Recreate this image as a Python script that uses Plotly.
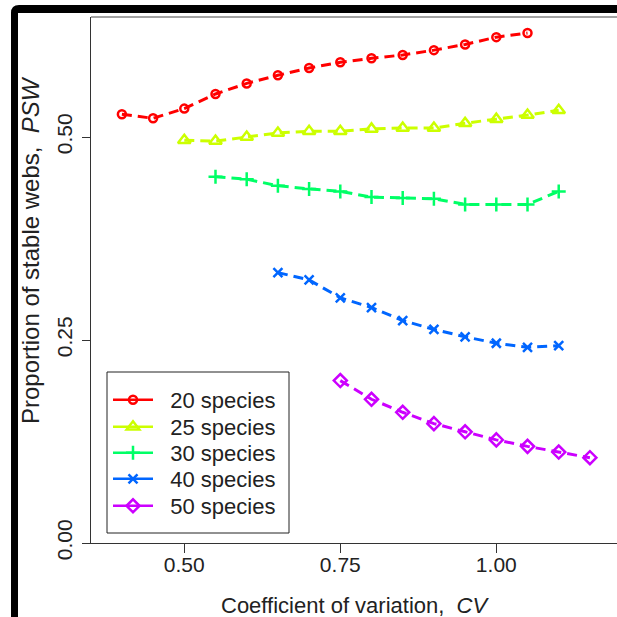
import plotly.graph_objects as go

# data
cv_20 = [0.40, 0.45, 0.50, 0.55, 0.60, 0.65, 0.70, 0.75, 0.80, 0.85, 0.90, 0.95, 1.00, 1.05]
psw_20 = [0.528, 0.523, 0.535, 0.553, 0.566, 0.576, 0.585, 0.592, 0.597, 0.601, 0.607, 0.614, 0.623, 0.628]

cv_25 = [0.50, 0.55, 0.60, 0.65, 0.70, 0.75, 0.80, 0.85, 0.90, 0.95, 1.00, 1.05, 1.10]
psw_25 = [0.496, 0.495, 0.500, 0.505, 0.507, 0.507, 0.510, 0.511, 0.511, 0.517, 0.522, 0.527, 0.533]

cv_30 = [0.55, 0.60, 0.65, 0.70, 0.75, 0.80, 0.85, 0.90, 0.95, 1.00, 1.05, 1.10]
psw_30 = [0.451, 0.448, 0.440, 0.436, 0.433, 0.426, 0.425, 0.424, 0.417, 0.417, 0.417, 0.433]

cv_40 = [0.65, 0.70, 0.75, 0.80, 0.85, 0.90, 0.95, 1.00, 1.05, 1.10]
psw_40 = [0.333, 0.324, 0.302, 0.290, 0.274, 0.263, 0.254, 0.246, 0.241, 0.243]

cv_50 = [0.75, 0.80, 0.85, 0.90, 0.95, 1.00, 1.05, 1.10, 1.15]
psw_50 = [0.200, 0.177, 0.161, 0.147, 0.137, 0.127, 0.119, 0.112, 0.105]

names = ["20 species", "25 species", "30 species", "40 species", "50 species"]
colors = ["#FF0000", "#CCFF00", "#00FF66", "#0066FF", "#CC00FF"]
symbols = ["circle-open", "triangle-up-open", "cross-thin-open", "x-thin-open", "diamond-open"]
sym_sizes = [8, 11, 10, 9, 10]
series = [(cv_20, psw_20), (cv_25, psw_25), (cv_30, psw_30), (cv_40, psw_40), (cv_50, psw_50)]

x_ticks = [0.50, 0.75, 1.00]
y_ticks = [0.00, 0.25, 0.50]

W, H = 617, 617
L, R, T, B = 91, 617, 17, 543  # plot box in pixels

def fx(px):
    return (px - L) / (R - L)

def fy(py):
    return (B - py) / (B - T)

FONT = "Liberation Sans, Arial, sans-serif"
TXT = "#222222"
legend_rows = [400, 427, 453, 479, 506]  # pixel centre of each legend row

fig = go.Figure()
layout_legends = {}
for i, ((x, y), name, col, sym, ms) in enumerate(zip(series, names, colors, symbols, sym_sizes)):
    lg = "legend" if i == 0 else f"legend{i + 1}"
    mk = dict(symbol=sym, size=ms, color=col, line=dict(color=col, width=2.5))
    fig.add_trace(go.Scatter(
        x=x, y=y, name=name, mode="lines+markers", showlegend=False,
        line=dict(color=col, width=3, dash="10px,6px"), marker=mk,
    ))
    # legend entry with a solid line sample, as in the original
    fig.add_trace(go.Scatter(
        x=[None], y=[None], name="\u00a0\u00a0" + name, mode="lines+markers", legend=lg,
        line=dict(color=col, width=2.5), marker=mk,
    ))
    layout_legends[lg] = dict(x=fx(108), y=fy(legend_rows[i]), xanchor="left", yanchor="middle",
                              bgcolor="rgba(0,0,0,0)", borderwidth=0, itemwidth=40,
                              font=dict(size=22, family=FONT, color=TXT))

shapes = [
    # top of plot box
    dict(type="line", xref="paper", yref="paper", x0=0, x1=1.1, y0=1, y1=1,
         line=dict(color="#444444", width=1)),
    # legend box
    dict(type="rect", xref="paper", yref="paper", x0=fx(107), x1=fx(289), y0=fy(533), y1=fy(372),
         line=dict(color="#222222", width=1), fillcolor="white", layer="below"),
    # black window frame (top + left)
    dict(type="path", xref="paper", yref="paper",
         path=(f"M {fx(11)},{fy(640)} L {fx(11)},{fy(13)} Q {fx(11)},{fy(5)} {fx(19)},{fy(5)} "
               f"L {fx(640)},{fy(5)} L {fx(640)},{fy(13)} L {fx(18)},{fy(13)} "
               f"L {fx(18)},{fy(640)} Z"),
         fillcolor="black", line=dict(color="black", width=0)),
]

annotations = [
    dict(text="Coefficient of variation,  <i>CV</i>", xref="paper", yref="paper",
         x=fx(355), y=fy(605), xanchor="center", yanchor="middle", showarrow=False,
         font=dict(size=22, color=TXT, family=FONT)),
    dict(text="Proportion of stable webs,  <i>PSW</i>", xref="paper", yref="paper",
         x=fx(31), y=fy(250), xanchor="center", yanchor="middle", textangle=-90, showarrow=False,
         font=dict(size=24, color=TXT, family=FONT)),
]

fig.update_layout(
    width=W, height=H,
    margin=dict(l=L, r=W - R, t=T, b=H - B),
    paper_bgcolor="white", plot_bgcolor="white",
    font=dict(family=FONT, size=21, color=TXT),
    shapes=shapes, annotations=annotations,
    **layout_legends,
)
fig.update_xaxes(range=[0.3505, 1.1934], tickvals=x_ticks, tickformat=".2f",
                 showgrid=False, zeroline=False, showline=True, linecolor="#333333", linewidth=1,
                 ticks="outside", ticklen=9, tickcolor="#333333", ticklabelstandoff=-6)
fig.update_yaxes(range=[0, 0.6478], tickvals=y_ticks, tickformat=".2f", tickangle=-90,
                 showgrid=False, zeroline=False, showline=True, linecolor="#333333", linewidth=1,
                 ticks="outside", ticklen=8, tickcolor="#333333", ticklabelstandoff=2)

fig.write_html("out.html", config={"displayModeBar": False},
               post_script="document.body.style.margin='0px';")
